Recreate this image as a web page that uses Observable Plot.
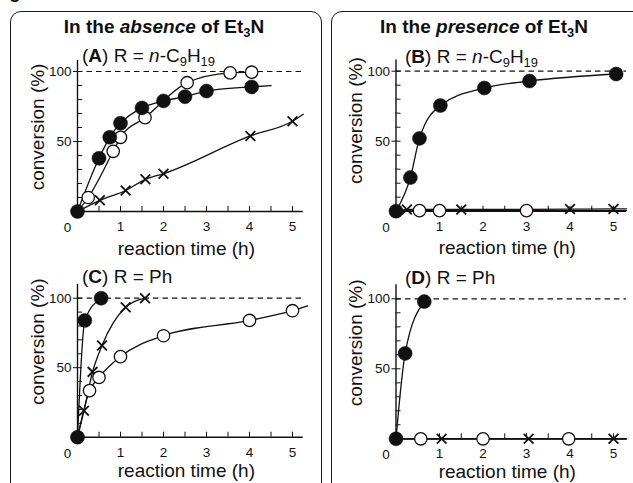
<!DOCTYPE html>
<html><head><meta charset="utf-8">
<script src="https://cdn.jsdelivr.net/npm/d3@7"></script>
<script src="https://cdn.jsdelivr.net/npm/@observablehq/plot@0.6"></script>
<style>
html,body{margin:0;padding:0;background:#fff;}
#root{position:relative;width:633px;height:483px;overflow:hidden;font-family:"Liberation Sans",Arial,sans-serif;color:#111;}
.box{position:absolute;border:1.5px solid #1a1a1a;border-radius:11px;box-sizing:border-box;}
.layer{position:absolute;left:0;top:0;}
.title{position:absolute;width:320px;text-align:center;font-weight:bold;font-size:19px;line-height:19px;white-space:nowrap;}
.plabel{position:absolute;font-size:19px;line-height:19px;white-space:nowrap;}
sub{font-size:0.68em;vertical-align:-0.3em;line-height:0;}
</style></head>
<body><div id="root"></div>
<script>
// ---------- data ----------
// Panel A: absence of Et3N, R = n-C9H19
const A_filled_t = [0, 0.5, 0.75, 1, 1.5, 2, 2.5, 3, 4.05];
const A_filled_y = [0, 38, 53, 63, 74, 79, 82, 86, 89];
const A_filled_tail = [4.5, 90];
const A_open_t = [0.25, 0.83, 1, 1.57, 2.55, 3.55, 4.05];
const A_open_y = [10, 43, 53, 67, 92, 99, 99.5];
const A_cross_t = [0.52, 1.12, 1.58, 2.0, 4.02, 5.0];
const A_cross_y = [8, 15, 23, 27, 54, 64.5];
const A_cross_tail = [5.25, 69.5];
// Panel B: presence of Et3N, R = n-C9H19
const B_filled_t = [0, 0.33, 0.54, 1.02, 2.03, 3.07, 5.06];
const B_filled_y = [0, 24, 52, 75.5, 88, 93, 98];
const B_open_t = [0.54, 1.0, 3.0];
const B_open_y = [0.4, 0.4, 0.4];
const B_open_tail = [5.3, 0.4];
const B_cross_t = [0.25, 1.5, 4.0, 5.0];
const B_cross_y = [1.2, 1.2, 1.5, 1.6];
const B_cross_tail = [5.3, 1.7];
// Panel C: absence of Et3N, R = Ph
const C_filled_t = [0, 0.17, 0.55];
const C_filled_y = [0, 84, 100];
const C_cross_t = [0.15, 0.35, 0.57, 1.12, 1.57];
const C_cross_y = [19, 47, 66, 93.5, 100];
const C_open_t = [0.28, 0.5, 1.0, 2.0, 4.0, 5.0];
const C_open_y = [33.5, 43, 58, 73, 84, 91];
const C_open_tail = [5.35, 94.5];
// Panel D: presence of Et3N, R = Ph
const D_filled_t = [0, 0.21, 0.65];
const D_filled_y = [0, 61, 98];
const D_open_t = [0.57, 2.0, 3.97];
const D_open_y = [0, 0, 0];
const D_open_tail = [5.3, 0];
const D_cross_t = [1.05, 3.05, 5.0];
const D_cross_y = [0, 0, 0];
const D_cross_tail = [5.3, 0];

const xTickLabels = [1, 2, 3, 4, 5];
const xMinorTicks = [0.5, 1, 1.5, 2, 2.5, 3, 3.5, 4, 4.5, 5];
const yTickLabels = [50, 100];
const yMinorTicks = [10, 20, 30, 40, 50, 60, 70, 80, 90, 100];
const completeLevel = 100;
const xTitle = "reaction time (h)";
const yTitle = "conversion (%)";

// ---------- layout ----------
const W = 633, H = 483;
const frames = {
  A: {x0: 77,    y0: 211,   pxH: 43,   pxP: 1.4,  xMax: 5.25, yMax: 108, yLabDy: -9,  xLabDy: 37},
  B: {x0: 395.5, y0: 210.7, pxH: 43.5, pxP: 1.4,  xMax: 5.3,  yMax: 108, yLabDy: -15, xLabDy: 37},
  C: {x0: 77,    y0: 436.7, pxH: 43,   pxP: 1.39, xMax: 5.25, yMax: 110, yLabDy: -19, xLabDy: 34},
  D: {x0: 395.5, y0: 438.3, pxH: 43.5, pxP: 1.4,  xMax: 5.3,  yMax: 110, yLabDy: -19, xLabDy: 33}
};

function pts(t, y) { return t.map((v, i) => ({t: v, y: y[i]})); }
function linePts(t, y, fromOrigin, tail) {
  let p = pts(t, y);
  if (fromOrigin) p = [{t: 0, y: 0}, ...p];
  if (tail) p = [...p, {t: tail[0], y: tail[1]}];
  return p;
}

const panelSeries = {
  A: {filled: [A_filled_t, A_filled_y, false, A_filled_tail], open: [A_open_t, A_open_y, true, null], cross: [A_cross_t, A_cross_y, true, A_cross_tail]},
  B: {filled: [B_filled_t, B_filled_y, false, null], open: [B_open_t, B_open_y, true, B_open_tail], cross: [B_cross_t, B_cross_y, true, B_cross_tail]},
  C: {filled: [C_filled_t, C_filled_y, false, null], open: [C_open_t, C_open_y, true, C_open_tail], cross: [C_cross_t, C_cross_y, true, null]},
  D: {filled: [D_filled_t, D_filled_y, false, null], open: [D_open_t, D_open_y, true, D_open_tail], cross: [D_cross_t, D_cross_y, true, D_cross_tail]}
};

const ink = "#111";
const root = document.getElementById("root");

function makePanel(key) {
  const f = frames[key];
  const s = panelSeries[key];
  const x1 = f.x0 + f.pxH * f.xMax;
  const yTop = f.y0 - f.pxP * f.yMax;
  const lineOpts = {x: "t", y: "y", curve: "monotone-x", stroke: ink, strokeWidth: 1.3};
  const marks = [
    Plot.ruleY([completeLevel], {stroke: ink, strokeWidth: 1.2, strokeDasharray: "5.5,4"}),
    Plot.ruleY([0], {stroke: ink, strokeWidth: 1.4}),
    Plot.ruleX([0], {stroke: ink, strokeWidth: 1.4}),
    Plot.axisX({ticks: xMinorTicks, tickSize: 5, dy: -5, tickFormat: () => "", stroke: ink, label: null}),
    Plot.axisX({ticks: xTickLabels, tickSize: 0, tickPadding: 10, tickFormat: "d", fontSize: 13.5, fill: ink, label: null}),
    Plot.axisY({ticks: yMinorTicks, tickSize: 5, dx: 5, tickFormat: () => "", stroke: ink, label: null}),
    Plot.axisY({ticks: yTickLabels, tickSize: 4, tickPadding: 2, tickFormat: "d", fontSize: 13.5, fill: ink, stroke: ink, label: null}),
    Plot.text(["0"], {text: d => d, frameAnchor: "bottom-left", textAnchor: "middle", lineAnchor: "middle", dx: -10, dy: 16, fontSize: 13.5, fill: ink}),
    Plot.text([xTitle], {text: d => d, frameAnchor: "bottom", textAnchor: "middle", lineAnchor: "middle", dx: -4, dy: f.xLabDy, fontSize: 19, fill: ink}),
    Plot.text([yTitle], {text: d => d, frameAnchor: "left", textAnchor: "middle", lineAnchor: "middle", rotate: -90, dx: -40, dy: f.yLabDy, fontSize: 19, fill: ink})
  ];
  for (const k of ["cross", "open", "filled"]) {
    const [t, y, o, tail] = s[k];
    marks.push(Plot.line(linePts(t, y, o, tail), lineOpts));
  }
  const c = s.cross, op = s.open, fl = s.filled;
  marks.push(Plot.dot(pts(c[0], c[1]), {x: "t", y: "y", symbol: "times", r: 4.5, stroke: ink, strokeWidth: 1.8}));
  marks.push(Plot.dot(pts(op[0], op[1]), {x: "t", y: "y", r: 6.2, fill: "white", stroke: ink, strokeWidth: 1.3}));
  marks.push(Plot.dot(pts(fl[0], fl[1]), {x: "t", y: "y", r: 7, fill: ink, stroke: ink, strokeWidth: 0.5}));

  const svg = Plot.plot({
    width: W, height: H,
    marginLeft: f.x0, marginRight: W - x1, marginTop: yTop, marginBottom: H - f.y0,
    x: {domain: [0, f.xMax], label: null},
    y: {domain: [0, f.yMax], label: null},
    style: {background: "transparent", fontFamily: "'Liberation Sans', Arial, sans-serif", overflow: "visible", color: ink},
    marks
  });
  svg.classList.add("layer");
  svg.style.position = "absolute";
  return svg;
}

function addDiv(cls, html, styles) {
  const d = document.createElement("div");
  d.className = cls;
  d.innerHTML = html;
  Object.assign(d.style, styles);
  root.appendChild(d);
  return d;
}

// boxes
addDiv("box", "", {left: "10px", top: "11px", width: "312px", height: "520px"});
addDiv("box", "", {left: "331px", top: "11px", width: "320px", height: "520px"});
// cropped glyph from text above the figure
addDiv("plabel", "g", {left: "9px", top: "-18px", fontWeight: "bold"});

for (const k of ["A", "B", "C", "D"]) root.appendChild(makePanel(k));

// titles (baseline ~33)
addDiv("title", "In the <i>absence</i> of Et<sub>3</sub>N", {left: (164 - 160) + "px", top: "17px"});
addDiv("title", "In the <i>presence</i> of Et<sub>3</sub>N", {left: (484 - 160) + "px", top: "17px"});
// panel labels
const sub = "R = <i>n</i>-C<sub>9</sub>H<sub>19</sub>";
addDiv("plabel", "(<b>A</b>) " + sub, {left: "82px", top: (62 - 16) + "px"});
addDiv("plabel", "(<b>B</b>) " + sub, {left: "405px", top: (63 - 16) + "px"});
addDiv("plabel", "(<b>C</b>) R = Ph", {left: "82px", top: (283 - 16) + "px"});
addDiv("plabel", "(<b>D</b>) R = Ph", {left: "405px", top: (284 - 16) + "px"});
</script></body></html>
